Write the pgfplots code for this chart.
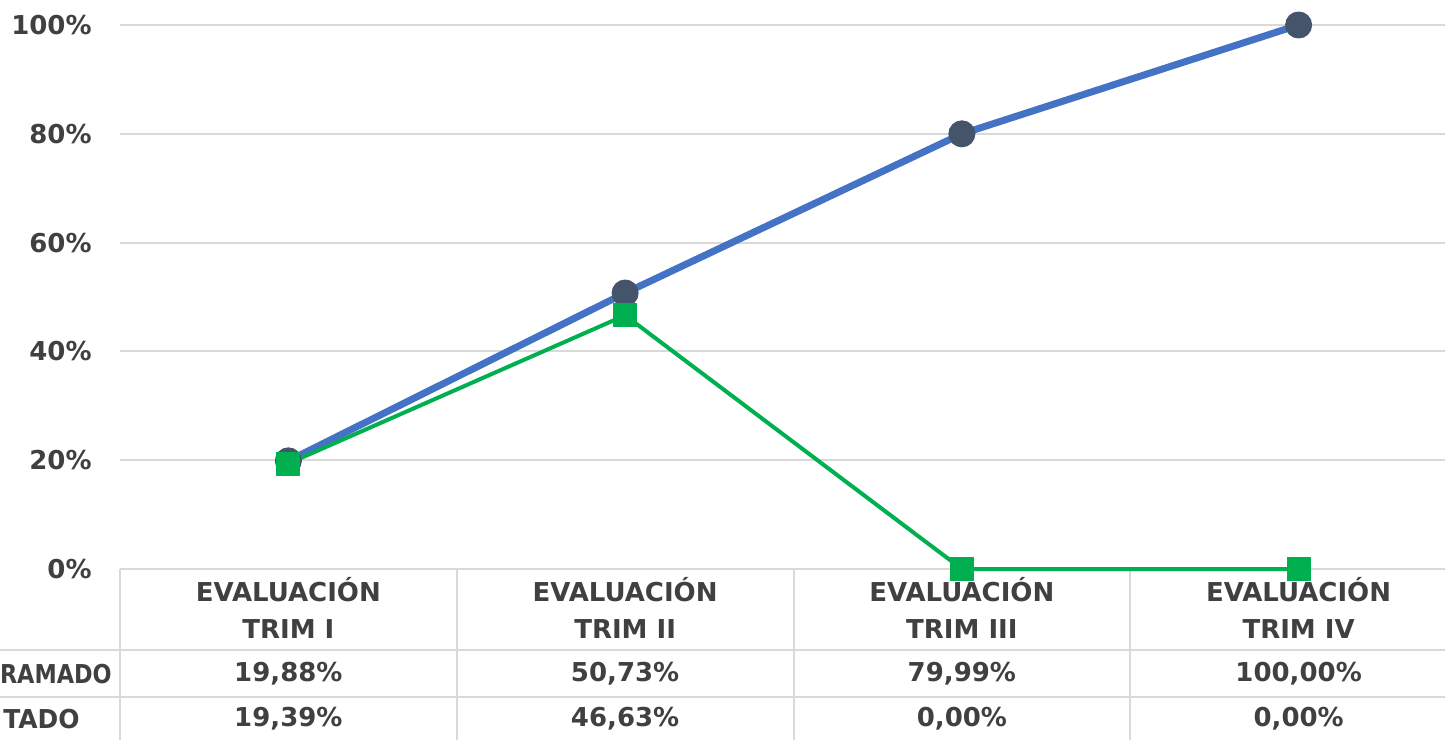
\documentclass[border=0pt]{standalone}
\usepackage{fontspec}
\setmainfont{DejaVu Sans}
\usepackage{pgfplots}
\pgfplotsset{compat=1.18}

\definecolor{txt}{HTML}{404040}
\definecolor{gridc}{HTML}{D9D9D9}
\definecolor{prog}{HTML}{4472C4}
\definecolor{progm}{HTML}{44546A}
\definecolor{ejec}{HTML}{00B050}

\tikzset{tbl/.style={font=\fontsize{13}{18.5}\selectfont\bfseries, text=txt,
  inner sep=0pt, align=center}}

\begin{document}
\begin{tikzpicture}
  \path[use as bounding box] (-60pt,-85pt) rectangle (662.5pt,284.5pt);
  \clip (-60pt,-85pt) rectangle (662.5pt,284.5pt);
  \begin{axis}[
    at={(0,0)}, anchor=south west,
    width=673.5pt, height=272pt, scale only axis,
    xmin=-0.5, xmax=3.5, ymin=0, ymax=100,
    xtick=\empty, ytick={0,20,40,60,80,100},
    ymajorgrids, grid style={gridc, line width=1pt},
    axis line style={draw=none},
    major tick length=0pt,
    yticklabel={\pgfmathprintnumber{\tick}\%},
    /pgf/number format/assume math mode=true,
    yticklabel style={font=\fontsize{13}{15}\selectfont\bfseries, text=txt,
      anchor=east, inner sep=0pt, xshift=-14pt},
    clip=false,
  ]
    % data table grid
    \pgfplotsinvokeforeach{-0.5,0.5,1.5,2.5,3.5}{
      \draw[gridc, line width=1pt] (axis cs:#1,0) -- ([yshift=-95pt]axis cs:#1,0);
    }
    \draw[gridc, line width=1pt] ([xshift=-70pt,yshift=-40.5pt]axis cs:-0.5,0) -- ([yshift=-40.5pt]axis cs:3.5,0);
    \draw[gridc, line width=1pt] ([xshift=-70pt,yshift=-64pt]axis cs:-0.5,0) -- ([yshift=-64pt]axis cs:3.5,0);

    % category headers
    \node[tbl] at ([yshift=-19.25pt]axis cs:0,0) {EVALUACIÓN\\TRIM I};
    \node[tbl] at ([yshift=-19.25pt]axis cs:1,0) {EVALUACIÓN\\TRIM II};
    \node[tbl] at ([yshift=-19.25pt]axis cs:2,0) {EVALUACIÓN\\TRIM III};
    \node[tbl] at ([yshift=-19.25pt]axis cs:3,0) {EVALUACIÓN\\TRIM IV};

    % series names, as far as they show at the left edge
    \node[tbl, anchor=east, xscale=0.86, transform shape] at ([xshift=-4pt,yshift=-52.5pt]axis cs:-0.5,0) {RAMADO};
    \node[tbl, anchor=east, xscale=0.96, transform shape] at ([xshift=-20pt,yshift=-75pt]axis cs:-0.5,0) {TADO};

    % values
    \node[tbl] at ([yshift=-52.5pt]axis cs:0,0) {19,88\%};
    \node[tbl] at ([yshift=-52.5pt]axis cs:1,0) {50,73\%};
    \node[tbl] at ([yshift=-52.5pt]axis cs:2,0) {79,99\%};
    \node[tbl] at ([yshift=-52.5pt]axis cs:3,0) {100,00\%};
    \node[tbl] at ([yshift=-75pt]axis cs:0,0) {19,39\%};
    \node[tbl] at ([yshift=-75pt]axis cs:1,0) {46,63\%};
    \node[tbl] at ([yshift=-75pt]axis cs:2,0) {0,00\%};
    \node[tbl] at ([yshift=-75pt]axis cs:3,0) {0,00\%};

    % PROGRAMADO
    \addplot[prog, line width=3.5pt, line join=round, mark=*, mark size=6.5pt,
      mark options={draw=progm, fill=progm, line width=0.5pt}] coordinates {
      (0,19.88) (1,50.73) (2,79.99) (3,100)
    };
    % EJECUTADO
    \addplot[ejec, line width=2pt, line join=round, mark=square*, mark size=5.75pt,
      mark options={draw=ejec, fill=ejec, line width=0.5pt, rounded corners=1.5pt}] coordinates {
      (0,19.39) (1,46.63) (2,0) (3,0)
    };
  \end{axis}
\end{tikzpicture}
\end{document}
